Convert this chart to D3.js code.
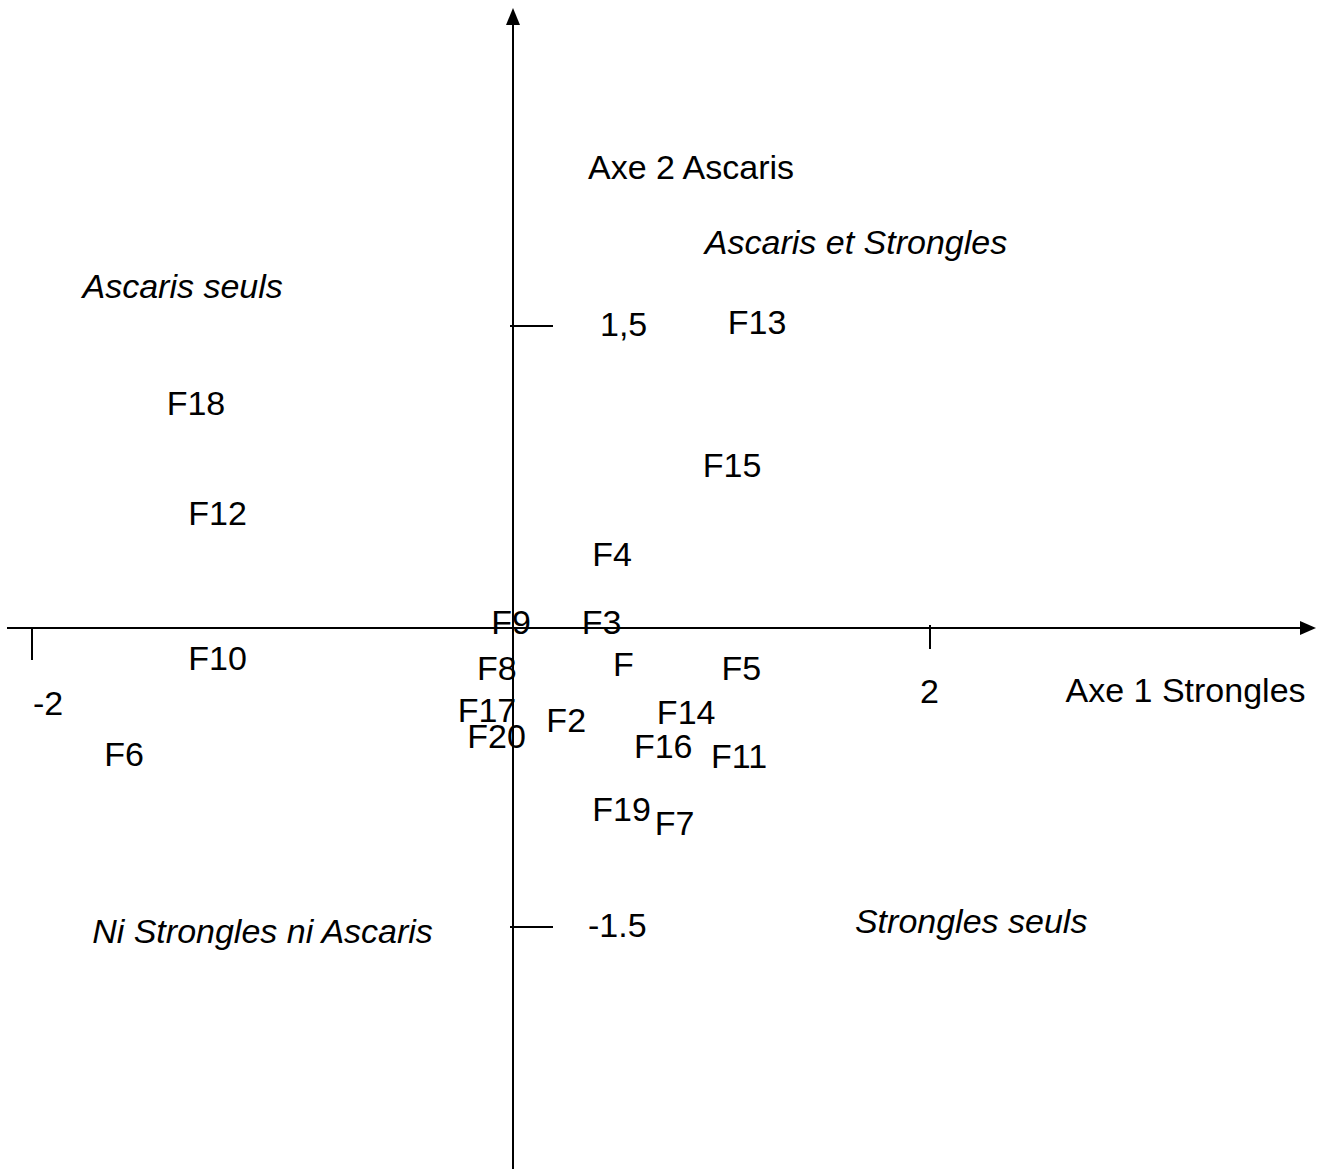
<!doctype html>
<html lang="fr">
<head>
    <meta charset="UTF-8">
    <title>Axe 1 Strongles / Axe 2 Ascaris</title>
    <script src="https://cdn.jsdelivr.net/npm/d3@7"></script>
    <style>
        body{
            margin:0;
            background:#fff;
        }
        svg text{
            font-family: "Liberation Sans", Arial, sans-serif;
            font-size: 34px;
            fill:#000;
        }
        .axis{
            stroke:#000;
            stroke-width:2px;
        }
        .italic{
            font-style: italic;
        }
    </style>
</head>
<body>
<svg width="1321" height="1169"></svg>
<script>
    // farm labels and their coordinates on the two axes (label anchor: left / baseline)
    const farms = ["F13","F18","F15","F12","F4","F9","F3","F10","F8","F","F5","F17","F20","F2","F14","F6","F16","F11","F19","F7"];
    const axe1 = [1.03,-1.44,0.91,-1.35,0.38,-0.09,0.33,-1.35,-0.15,0.48,1.00,-0.23,-0.19,0.16,0.69,-1.70,0.58,0.95,0.38,0.68];
    const axe2 = [1.46,1.06,0.75,0.51,0.31,-0.03,-0.03,-0.21,-0.26,-0.24,-0.26,-0.47,-0.60,-0.52,-0.48,-0.69,-0.65,-0.70,-0.97,-1.04];

    // quadrant / axis titles
    const noteText = ["Axe 2 Ascaris","Ascaris et Strongles","Ascaris seuls","Ni Strongles ni Ascaris","Strongles seuls","Axe 1 Strongles"];
    const noteX = [0.36,0.92,-1.79,-1.75,1.64,2.65];
    const noteY = [2.23,1.86,1.64,-1.58,-1.53,-0.37];
    const noteItalic = [false,true,true,true,true,false];

    // ticks
    const xTicks = [-2, 2];
    const xTickLabels = ["-2","2"];
    const yTicks = [1.5, -1.5];
    const yTickLabels = ["1,5","-1.5"];

    const svg = d3.select("svg");

    // hand drawn figure: the two halves of each axis are not the same length
    const x = d3.scaleLinear().domain([-2,0,2]).range([32,513,930]);
    const y = d3.scaleLinear().domain([-1.5,0,1.5]).range([927,628,326]);

    const x0 = x(0), y0 = y(0);

    // axes
    svg.append("line").attr("class","axis")
        .attr("x1",7).attr("x2",1302).attr("y1",y0).attr("y2",y0);
    svg.append("path")
        .attr("d",`M1316,${y0} L1300,${y0-7} L1300,${y0+7} Z`).attr("fill","#000");

    svg.append("line").attr("class","axis")
        .attr("x1",x0).attr("x2",x0).attr("y1",22).attr("y2",1169);
    svg.append("path")
        .attr("d",`M${x0},8 L${x0-7},25 L${x0+7},25 Z`).attr("fill","#000");

    // x ticks (left one hangs lower)
    const xTickLen = [32, 21];
    const xTickTop = [0, -3];
    const xLabelDx = [1, -10];
    const xLabelY = [715, 703];
    svg.selectAll(".xtick").data(xTicks).enter().append("line")
        .attr("class","axis xtick")
        .attr("x1",d=>x(d)).attr("x2",d=>x(d))
        .attr("y1",(d,i)=>y0+xTickTop[i]).attr("y2",(d,i)=>y0+xTickLen[i]);
    svg.selectAll(".xlab").data(xTicks).enter().append("text")
        .attr("x",(d,i)=>x(d)+xLabelDx[i]).attr("y",(d,i)=>xLabelY[i])
        .text((d,i)=>xTickLabels[i]);

    // y ticks
    const yLabelX = [600, 588];
    svg.selectAll(".ytick").data(yTicks).enter().append("line")
        .attr("class","axis ytick")
        .attr("x1",x0-3).attr("x2",x0+40)
        .attr("y1",d=>y(d)).attr("y2",d=>y(d));
    svg.selectAll(".ylab").data(yTicks).enter().append("text")
        .attr("x",(d,i)=>yLabelX[i]).attr("y",d=>y(d)+10)
        .text((d,i)=>yTickLabels[i]);

    // notes
    svg.selectAll(".note").data(noteText).enter().append("text")
        .attr("class",(d,i)=>noteItalic[i] ? "note italic" : "note")
        .attr("x",(d,i)=>x(noteX[i])).attr("y",(d,i)=>y(noteY[i]))
        .text(d=>d);

    // farms
    svg.selectAll(".farm").data(farms).enter().append("text")
        .attr("class","farm")
        .attr("x",(d,i)=>x(axe1[i])).attr("y",(d,i)=>y(axe2[i]))
        .text(d=>d);
</script>
</body>
</html>
